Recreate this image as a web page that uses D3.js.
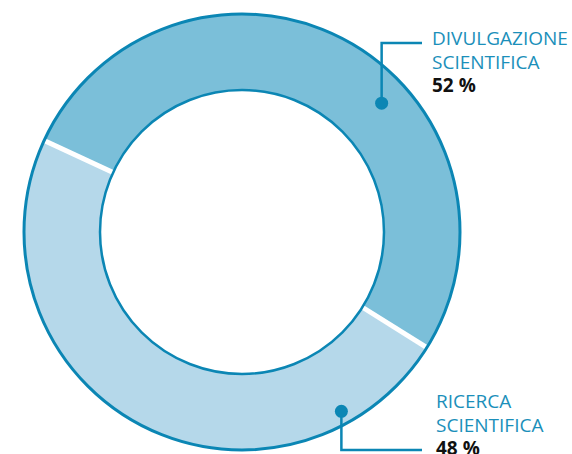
<!DOCTYPE html>
<html>
<head>
<meta charset="utf-8">
<script src="https://cdn.jsdelivr.net/npm/d3@7"></script>
<style>
  body { margin: 0; background: #fff; }
  svg text { font-family: "Open Sans", sans-serif; }
</style>
</head>
<body>
<div id="canvas"></div>
<script>
const categories = ["Divulgazione scientifica", "Ricerca scientifica"];
const values = [52, 48];
const labelLines = [["DIVULGAZIONE", "SCIENTIFICA"], ["RICERCA", "SCIENTIFICA"]];
const colors = ["#7bbfd9", "#b5d8ea"];

const width = 572;
const height = 454;
const cx = 242, cy = 232;
const outerR = 218, innerR = 142;
const strokeColor = "#0b86b4";
const textColor = "#1b8fba";

const svg = d3.select("#canvas").append("svg")
    .attr("width", width)
    .attr("height", height);

const g = svg.append("g").attr("transform", `translate(${cx},${cy})`);

const startA = -65.2 * Math.PI / 180;
const pie = d3.pie().sort(null).value(d => d)
    .startAngle(startA).endAngle(startA + 2 * Math.PI);
const arcs = pie(values);

const arc = d3.arc().innerRadius(innerR).outerRadius(outerR);

g.selectAll("path.slice").data(arcs).enter().append("path")
    .attr("class", "slice")
    .attr("d", arc)
    .style("fill", (d, i) => colors[i]);

// white separators
g.selectAll("line.sep").data(arcs).enter().append("line")
    .attr("class", "sep")
    .attr("x1", d => innerR * Math.sin(d.startAngle))
    .attr("y1", d => -innerR * Math.cos(d.startAngle))
    .attr("x2", d => outerR * Math.sin(d.startAngle))
    .attr("y2", d => -outerR * Math.cos(d.startAngle))
    .attr("stroke", "#fff")
    .attr("stroke-width", 5);

g.append("circle").attr("r", outerR).attr("fill", "none")
    .attr("stroke", strokeColor).attr("stroke-width", 3);
g.append("circle").attr("r", innerR).attr("fill", "none")
    .attr("stroke", strokeColor).attr("stroke-width", 2.5);

// leader lines and labels
const labels = [
    { angle: 47.3, r: 190, elbowY: 43, endX: 422, textX: 432, textY: 45 },
    { angle: 151, r: 205, elbowY: 450, endX: 422, textX: 436, textY: 408 }
];

labels.forEach((l, i) => {
    const a = l.angle * Math.PI / 180;
    const px = cx + l.r * Math.sin(a);
    const py = cy - l.r * Math.cos(a);
    svg.append("path")
        .attr("d", `M${px},${py}V${l.elbowY}H${l.endX}`)
        .attr("fill", "none")
        .attr("stroke", strokeColor)
        .attr("stroke-width", 2.5);
    svg.append("circle")
        .attr("cx", px).attr("cy", py).attr("r", 6.5)
        .attr("fill", strokeColor);

    const t = svg.append("text")
        .attr("x", l.textX)
        .attr("y", l.textY)
        .style("font-size", "19px");
    labelLines[i].forEach((line, j) => {
        t.append("tspan")
            .attr("x", l.textX)
            .attr("dy", j === 0 ? 0 : 23.5)
            .attr("fill", textColor)
            .text(line);
    });
    t.append("tspan")
        .attr("x", l.textX)
        .attr("dy", 23.5)
        .attr("fill", "#111")
        .style("font-weight", "bold")
        .text(values[i] + " %");
});
</script>
</body>
</html>
